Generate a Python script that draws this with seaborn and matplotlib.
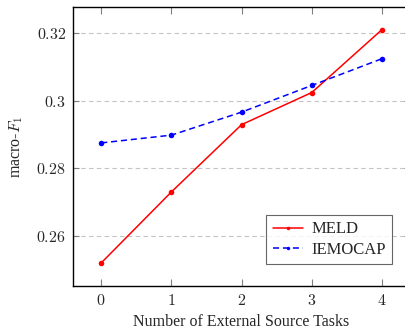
import pandas as pd
import matplotlib.pyplot as plt
import seaborn as sns

# values
tasks = [0, 1, 2, 3, 4]
meld = [0.2520, 0.2730, 0.2929, 0.3024, 0.3210]
iemocap = [0.2875, 0.2898, 0.2966, 0.3045, 0.3124]
yticks = [0.26, 0.28, 0.30, 0.32]
ytick_labels = ['0.26', '0.28', '0.3', '0.32']

df = pd.DataFrame({'tasks': tasks * 2,
                   'f1': meld + iemocap,
                   'dataset': ['MELD'] * 5 + ['IEMOCAP'] * 5})

sns.set_style('white')
plt.rcParams['font.family'] = ['Liberation Serif', 'DejaVu Serif']
plt.rcParams['mathtext.fontset'] = 'cm'

fig = plt.figure(figsize=(4.06, 3.31), dpi=100)
ax = fig.add_axes([0.18, 0.136, 0.83, 0.843])

sns.lineplot(data=df, x='tasks', y='f1', hue='dataset', style='dataset',
             palette={'MELD': 'red', 'IEMOCAP': 'blue'},
             dashes={'MELD': '', 'IEMOCAP': (4, 2.5)},
             markers={'MELD': 'o', 'IEMOCAP': 'o'},
             markersize=4, markeredgewidth=0, linewidth=1.1, ax=ax)

ax.set_xlim(-0.4, 4.4)
ax.set_ylim(0.2452, 0.3277)
ax.set_xticks(tasks)
ax.set_xticklabels(['$%d$' % t for t in tasks], fontsize=11.5)
ax.set_yticks(yticks)
ax.set_yticklabels(['$%s$' % s for s in ytick_labels], fontsize=11.5)
ax.yaxis.grid(True, color='#c4c4c4', linestyle=(0, (4, 3)), linewidth=0.8)
ax.tick_params(axis='x', direction='in', length=5, color='#808080', top=True, bottom=True, pad=5)
ax.tick_params(axis='y', direction='in', length=4, color='#808080', left=True, right=True, pad=5)
for s in ax.spines.values():
    s.set_color('black')
    s.set_linewidth(1.0)

ax.set_xlabel('Number of External Source Tasks', fontsize=11.5, labelpad=4)
ax.set_ylabel('macro-$F_1$', fontsize=11.5, labelpad=8)

leg = ax.legend(loc='lower right', bbox_to_anchor=(0.962, 0.06), fontsize=12,
                frameon=True, fancybox=False, edgecolor='#404040',
                handlelength=1.8, borderpad=0.4, labelspacing=0.25,
                handletextpad=0.5, borderaxespad=0.3)
leg.get_frame().set_linewidth(0.8)
for h in leg.legend_handles:
    h.set_markersize(2.5)

fig.savefig('out.png', dpi=100)
